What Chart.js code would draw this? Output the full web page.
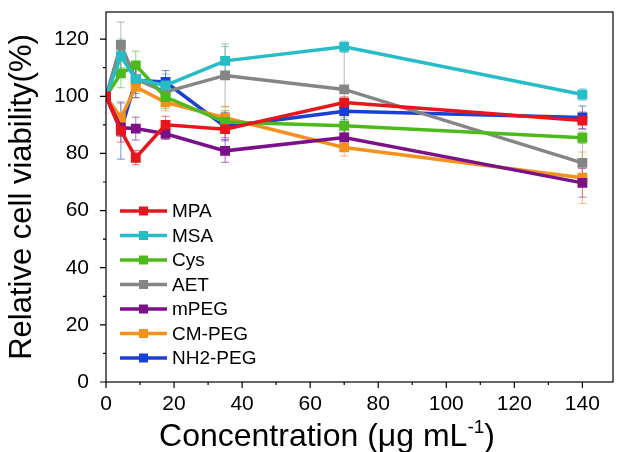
<!DOCTYPE html>
<html>
<head>
<meta charset="utf-8">
<script src="https://cdn.jsdelivr.net/npm/chart.js"></script>
<style>
  body { margin: 0; background: #fff; }
  #wrap { width: 621px; height: 452px; }
</style>
</head>
<body>
<div id="wrap"><canvas id="viability"></canvas></div>
<script>
  // concentrations (ug/mL)
  const conc = [0, 4.375, 8.75, 17.5, 35, 70, 140];
  const seriesNames = ['MPA', 'MSA', 'Cys', 'AET', 'mPEG', 'CM-PEG', 'NH2-PEG'];
  const seriesColors = ['#e8161c', '#27bcc6', '#4cba1c', '#858585', '#7a1189', '#f4901e', '#1a3fd6'];

  // cell viability values (%)
  const mpa = [100, 88, 78.5, 90, 88.5, 97.8, 91.5];
  const msa = [100, 114, 106, 103.8, 112.4, 117.3, 100.6];
  const cys = [100, 108, 110.8, 99.7, 91, 89.7, 85.5];
  const aet = [100, 118, 106, 101.5, 107.3, 102.4, 76.7];
  const mpeg = [100, 89, 88.7, 86.9, 80.9, 85.6, 69.7];
  const cmpeg = [100, 92.5, 103.3, 97.9, 92.5, 82.1, 71.5];
  const nh2peg = [100, 88, 105.6, 105, 89.4, 94.8, 92.6];

  // error bars (+/-)
  const mpaErr = [0, 4, 2.5, 3, 3, 2, 3];
  const msaErr = [0, 6, 5, 4, 5, 2, 2];
  const cysErr = [0, 5, 5, 4, 4, 3, 2];
  const aetErr = [0, 8, 5, 4, 11, 15, 8];
  const mpegErr = [0, 3, 4, 2, 4, 3, 5];
  const cmpegErr = [0, 5, 4, 3, 4, 3, 9];
  const nh2pegErr = [0, 10, 6, 4, 5, 3, 4];

  // y and x major ticks
  const yTicks = [0, 20, 40, 60, 80, 100, 120];
  const xTicks = [0, 20, 40, 60, 80, 100, 120, 140];

  const allValues = [mpa, msa, cys, aet, mpeg, cmpeg, nh2peg];
  const allErrors = [mpaErr, msaErr, cysErr, aetErr, mpegErr, cmpegErr, nh2pegErr];

  const FONT = 'Arial, "Liberation Sans"';

  const datasets = seriesNames.map((name, i) => ({
    label: name,
    data: conc.map((c, j) => ({ x: c, y: allValues[i][j] })),
    errors: allErrors[i],
    borderColor: seriesColors[i],
    backgroundColor: seriesColors[i],
    borderWidth: 3.5,
    pointStyle: 'rect',
    pointRadius: 4.5,
    tension: 0
  }));

  // draws error bars, frame, ticks, x title and an in-plot legend
  const extras = {
    id: 'extras',
    beforeDatasetsDraw(chart) {
      const ctx = chart.ctx;
      const xs = chart.scales.x, ys = chart.scales.y;
      ctx.save();
      ctx.lineWidth = 1;
      chart.data.datasets.forEach(ds => {
        ctx.strokeStyle = ds.borderColor + '99';
        ds.data.forEach((p, j) => {
          const e = ds.errors[j];
          if (!e) return;
          const px = xs.getPixelForValue(p.x);
          const top = ys.getPixelForValue(p.y + e);
          const bot = ys.getPixelForValue(p.y - e);
          ctx.beginPath();
          ctx.moveTo(px, top); ctx.lineTo(px, bot);
          ctx.moveTo(px - 4, top); ctx.lineTo(px + 4, top);
          ctx.moveTo(px - 4, bot); ctx.lineTo(px + 4, bot);
          ctx.stroke();
        });
      });
      ctx.restore();
    },
    afterDraw(chart) {
      const ctx = chart.ctx;
      const a = chart.chartArea;
      const xs = chart.scales.x, ys = chart.scales.y;
      ctx.save();
      ctx.strokeStyle = '#000';
      ctx.lineWidth = 1.2;
      ctx.strokeRect(a.left, a.top, a.right - a.left, a.bottom - a.top);
      ctx.beginPath();
      for (let v = 0; v <= 140; v += 10) {
        const px = xs.getPixelForValue(v);
        ctx.moveTo(px, a.bottom);
        ctx.lineTo(px, a.bottom + (v % 20 === 0 ? 6 : 3));
      }
      for (let v = 0; v <= 120; v += 10) {
        const py = ys.getPixelForValue(v);
        ctx.moveTo(a.left, py);
        ctx.lineTo(a.left - (v % 20 === 0 ? 6 : 3), py);
      }
      ctx.stroke();

      // x axis title with superscript
      ctx.fillStyle = '#000';
      ctx.textBaseline = 'alphabetic';
      const main = 'Concentration (μg mL';
      ctx.font = '32px ' + FONT;
      const w1 = ctx.measureText(main).width;
      ctx.font = '19px ' + FONT;
      const w2 = ctx.measureText('-1').width;
      ctx.font = '32px ' + FONT;
      const w3 = ctx.measureText(')').width;
      let tx = 327 - (w1 + w2 + w3) / 2;
      ctx.fillText(main, tx, 446);
      tx += w1;
      ctx.font = '19px ' + FONT;
      ctx.fillText('-1', tx, 433);
      tx += w2;
      ctx.font = '32px ' + FONT;
      ctx.fillText(')', tx, 446);

      // legend
      ctx.font = '19px ' + FONT;
      ctx.textBaseline = 'middle';
      chart.data.datasets.forEach((ds, i) => {
        const y = 211 + i * 24.5;
        ctx.strokeStyle = ds.borderColor;
        ctx.lineWidth = 3.5;
        ctx.beginPath();
        ctx.moveTo(120, y); ctx.lineTo(167, y);
        ctx.stroke();
        ctx.fillStyle = ds.borderColor;
        ctx.fillRect(139, y - 4.5, 9, 9);
        ctx.fillStyle = '#000';
        ctx.fillText(ds.label, 172, y + 1);
      });
      ctx.restore();
    }
  };

  new Chart(document.getElementById('viability'), {
    type: 'line',
    data: { datasets },
    options: {
      responsive: true,
      maintainAspectRatio: false,
      animation: false,
      layout: { padding: { top: 12, right: 4, left: 0, bottom: 0 } },
      plugins: { legend: { display: false }, tooltip: { enabled: false } },
      scales: {
        x: {
          type: 'linear',
          min: 0, max: 149,
          afterBuildTicks: s => { s.ticks = xTicks.map(v => ({ value: v })); },
          grid: { display: false },
          border: { display: false },
          ticks: { color: '#000', font: { size: 21, family: FONT }, padding: 2 },
          afterFit: s => { s.height = 70; s.paddingLeft = 0; s.paddingRight = 0; }
        },
        y: {
          min: 0, max: 129.5,
          afterBuildTicks: s => { s.ticks = yTicks.map(v => ({ value: v })); },
          grid: { display: false },
          border: { display: false },
          ticks: { color: '#000', font: { size: 21, family: FONT }, padding: 9 },
          title: {
            display: true,
            text: 'Relative cell viability(%)',
            color: '#000',
            font: { size: 31, family: FONT },
            padding: { bottom: 2 }
          },
          afterFit: s => { s.width = 106; s.paddingTop = 0; s.paddingBottom = 0; }
        }
      }
    },
    plugins: [extras]
  });
</script>
</body>
</html>
